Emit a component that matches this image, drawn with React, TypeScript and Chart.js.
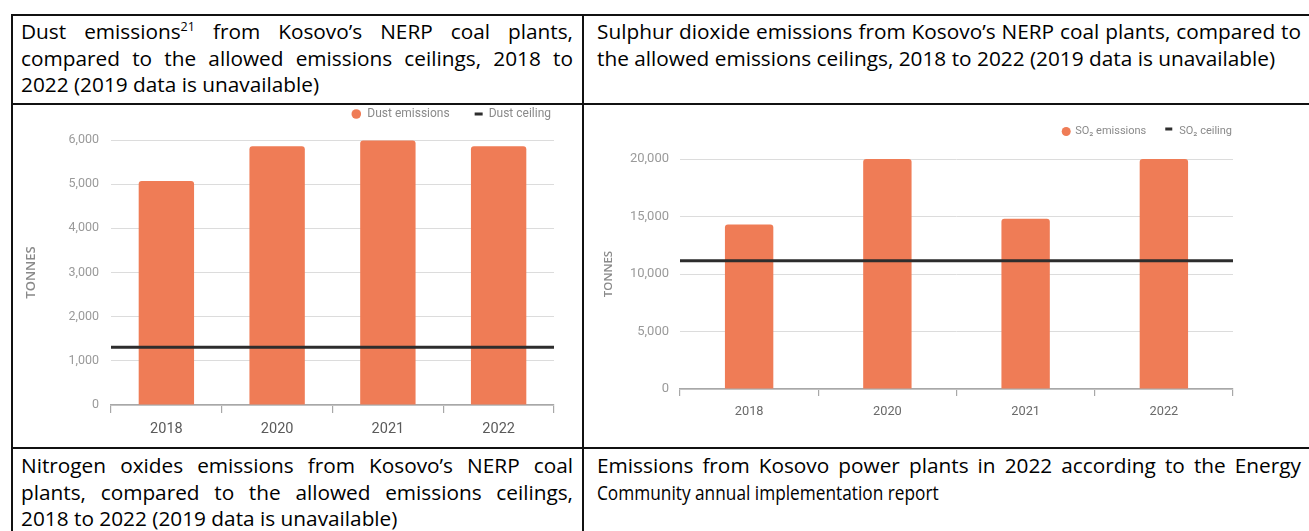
import React, { useEffect, useRef } from 'react';
import { Chart, registerables } from 'chart.js';

Chart.register(...registerables);

// ---------- data ----------
const categories = ['2018', '2020', '2021', '2022'];

const dustEmissions = [5070, 5860, 5990, 5860];
const dustCeiling = 1310;
const dustAxis = { max: 6000, step: 1000 };

const so2Emissions = [14300, 20000, 14800, 20000];
const so2Ceiling = 11150;
const so2Axis = { max: 20000, step: 5000 };

const dustLabels = ['Dust emissions', 'Dust ceiling'];
const so2Labels = ['SO\u2082 emissions', 'SO\u2082 ceiling'];
const yTitle = 'TONNES';

// ---------- styles ----------
const ORANGE = '#EF7C56';
const CEIL = '#2d2d2d';
const GRID = '#dcdcdc';
const AXIS = '#a8a8a8';
const TICK = '#9a9a9a';
const CHART_FONT = "Roboto, 'Noto Sans', sans-serif";
const TEXT_FONT = "'Open Sans', 'Noto Sans', sans-serif";

type LegendOpts = {
  size: number; color: string; rightOffset: number; yOffset: number;
  dotGap: number; dashGap: number; itemGap: number; dotRadius: number;
  dashW: number; dashH: number; dashDy: number;
};

const miniLegend = {
  id: 'miniLegend',
  afterDraw(chart: any, _a: any, o: LegendOpts) {
    if (!o || !o.size) return;
    const { ctx, chartArea } = chart;
    const ds = chart.data.datasets;
    ctx.save();
    ctx.font = `${o.size}px ${CHART_FONT}`;
    ctx.textBaseline = 'middle';
    ctx.textAlign = 'left';
    const y = chartArea.top + o.yOffset;
    let x = chartArea.right + o.rightOffset;
    for (let i = ds.length - 1; i >= 0; i--) {
      const d = ds[i];
      const w = ctx.measureText(d.label).width;
      x -= w;
      ctx.fillStyle = o.color;
      ctx.fillText(d.label, x, y);
      if (d.type === 'line') {
        const cx = x - o.dashGap;
        ctx.fillStyle = d.borderColor;
        ctx.fillRect(cx - o.dashW / 2, y + o.dashDy - o.dashH / 2, o.dashW, o.dashH);
        x = cx - o.itemGap;
      } else {
        const cx = x - o.dotGap;
        ctx.fillStyle = d.backgroundColor;
        ctx.beginPath();
        ctx.arc(cx, y, o.dotRadius, 0, Math.PI * 2);
        ctx.fill();
        x = cx - o.itemGap;
      }
    }
    ctx.restore();
  },
};

type Params = {
  values: number[]; ceiling: number; labels: string[]; max: number; step: number;
  barPct: number; padTop: number; padRight: number; yWidth: number; xHeight: number;
  tickLen: number; xSize: number; xColor: string; xPad: number; ySize: number; yPad: number;
  titleSize: number; titlePad: number; legend: LegendOpts;
};

function buildConfig(p: Params): any {
  const n = categories.length;
  return {
    type: 'bar',
    data: {
      labels: categories,
      datasets: [
        {
          type: 'bar', label: p.labels[0], data: p.values, backgroundColor: ORANGE,
          borderRadius: { topLeft: 3, topRight: 3, bottomLeft: 0, bottomRight: 0 },
          grouped: false,
          barPercentage: p.barPct, categoryPercentage: 1, order: 2, xAxisID: 'x', yAxisID: 'y',
        },
        {
          type: 'line', label: p.labels[1],
          data: [{ x: -0.5, y: p.ceiling }, { x: n - 0.5, y: p.ceiling }],
          xAxisID: 'xLine', yAxisID: 'y', borderColor: CEIL, borderWidth: 3,
          pointRadius: 0, order: 1, fill: false,
        },
      ],
    },
    plugins: [miniLegend],
    options: {
      animation: false, responsive: true, maintainAspectRatio: false, locale: 'en-US',
      layout: { padding: { top: p.padTop, right: p.padRight, left: 0, bottom: 0 } },
      plugins: { legend: { display: false }, tooltip: { enabled: false }, miniLegend: p.legend },
      scales: {
        x: {
          type: 'category', offset: true,
          grid: { offset: true, drawOnChartArea: false, drawTicks: true, tickLength: p.tickLen, color: AXIS, lineWidth: 1.2 },
          border: { display: true, color: AXIS, width: 1.5 },
          ticks: { color: p.xColor, font: { family: CHART_FONT, size: p.xSize }, padding: p.xPad, maxRotation: 0 },
          afterFit: (s: any) => { s.height = p.xHeight; },
        },
        xLine: { type: 'linear', display: false, offset: false, min: -0.5, max: n - 0.5 },
        y: {
          min: 0, max: p.max,
          ticks: { stepSize: p.step, color: TICK, font: { family: CHART_FONT, size: p.ySize }, padding: p.yPad },
          grid: { color: GRID, drawTicks: false, lineWidth: 1 },
          border: { display: false },
          title: {
            display: true, text: yTitle, color: '#8a8a8a',
            font: { family: TEXT_FONT, size: p.titleSize, weight: '600' },
            padding: { top: p.titlePad, bottom: 0 },
          },
          afterFit: (s: any) => { s.width = p.yWidth; },
        },
      },
    },
  };
}

function ChartBox({ left, top, width, height, params }: { left: number; top: number; width: number; height: number; params: Params }) {
  const ref = useRef<HTMLCanvasElement>(null);
  useEffect(() => {
    const chart = new Chart(ref.current as HTMLCanvasElement, buildConfig(params));
    return () => chart.destroy();
  }, []);
  return (
    <div style={{ position: 'absolute', left, top, width, height }}>
      <canvas ref={ref} />
    </div>
  );
}

function Para({ left, top, width, lines, lastScale = 1 }: { left: number; top: number; width: number; lines: React.ReactNode[]; lastScale?: number }) {
  return (
    <div style={{ position: 'absolute', left, top, width, fontFamily: TEXT_FONT, fontSize: 20.8, lineHeight: '26.5px', color: '#000' }}>
      {lines.map((l, i) => {
        const last = i === lines.length - 1;
        return (
          <div key={i} style={{ whiteSpace: 'nowrap', textAlign: 'justify', textAlignLast: last ? 'left' : 'justify' } as any}>
            {last && lastScale !== 1
              ? <span style={{ display: 'inline-block', transform: `scaleX(${lastScale})`, transformOrigin: 'left center' }}>{l}</span>
              : l}
          </div>
        );
      })}
    </div>
  );
}

const Line = ({ left, top, width, height }: { left: number; top: number; width: number; height: number }) => (
  <div style={{ position: 'absolute', left, top, width, height, background: '#111' }} />
);

export default function App() {
  const dustParams: Params = {
    values: dustEmissions, ceiling: dustCeiling, labels: dustLabels, max: dustAxis.max, step: dustAxis.step,
    barPct: 0.5, padTop: 35, padRight: 28, yWidth: 98, xHeight: 42, tickLen: 8,
    xSize: 14.5, xColor: '#5a5a5a', xPad: 8, ySize: 12.5, yPad: 12, titleSize: 13, titlePad: 10,
    legend: { size: 12, color: '#8a8a8a', rightOffset: -3, yOffset: -26, dotGap: 11, dashGap: 10, itemGap: 29, dotRadius: 4.8, dashW: 8, dashH: 3, dashDy: 0 },
  };
  const so2Params: Params = {
    values: so2Emissions, ceiling: so2Ceiling, labels: so2Labels, max: so2Axis.max, step: so2Axis.step,
    barPct: 0.35, padTop: 54, padRight: 76, yWidth: 95, xHeight: 58, tickLen: 7,
    xSize: 12.8, xColor: '#6a6a6a', xPad: 8, ySize: 13, yPad: 11, titleSize: 11.5, titlePad: 17,
    legend: { size: 11, color: '#8a8a8a', rightOffset: -1, yOffset: -27.5, dotGap: 9, dashGap: 10.5, itemGap: 22.5, dotRadius: 4.5, dashW: 7, dashH: 3, dashDy: -2.5 },
  };
  return (
    <div style={{ position: 'absolute', left: 0, top: 0, width: 1309, height: 531, overflow: 'hidden', background: '#fff' }}>
      <Line left={11} top={14} width={1298} height={2} />
      <Line left={11} top={14} width={2} height={517} />
      <Line left={582} top={14} width={2} height={517} />
      <Line left={11} top={103} width={1298} height={1.5} />
      <Line left={11} top={447} width={1298} height={1.5} />

      <Para left={21} top={18} width={552} lines={[
        <>Dust emissions<sup style={{ fontSize: 12.5, lineHeight: 0 }}>21</sup> from Kosovo’s NERP coal plants,</>,
        'compared to the allowed emissions ceilings, 2018 to',
        '2022 (2019 data is unavailable)',
      ]} />
      <Para left={597} top={18} width={704} lines={[
        'Sulphur dioxide emissions from Kosovo’s NERP coal plants, compared to',
        'the allowed emissions ceilings, 2018 to 2022 (2019 data is unavailable)',
      ]} />
      <Para left={21} top={452} width={552} lines={[
        'Nitrogen oxides emissions from Kosovo’s NERP coal',
        'plants, compared to the allowed emissions ceilings,',
        '2018 to 2022 (2019 data is unavailable)',
      ]} />
      <Para left={597} top={452} width={704} lastScale={0.83} lines={[
        'Emissions from Kosovo power plants in 2022 according to the Energy',
        'Community annual implementation report',
      ]} />

      <ChartBox left={13} top={105} width={569} height={342} params={dustParams} />
      <ChartBox left={585} top={105} width={724} height={342} params={so2Params} />
    </div>
  );
}
